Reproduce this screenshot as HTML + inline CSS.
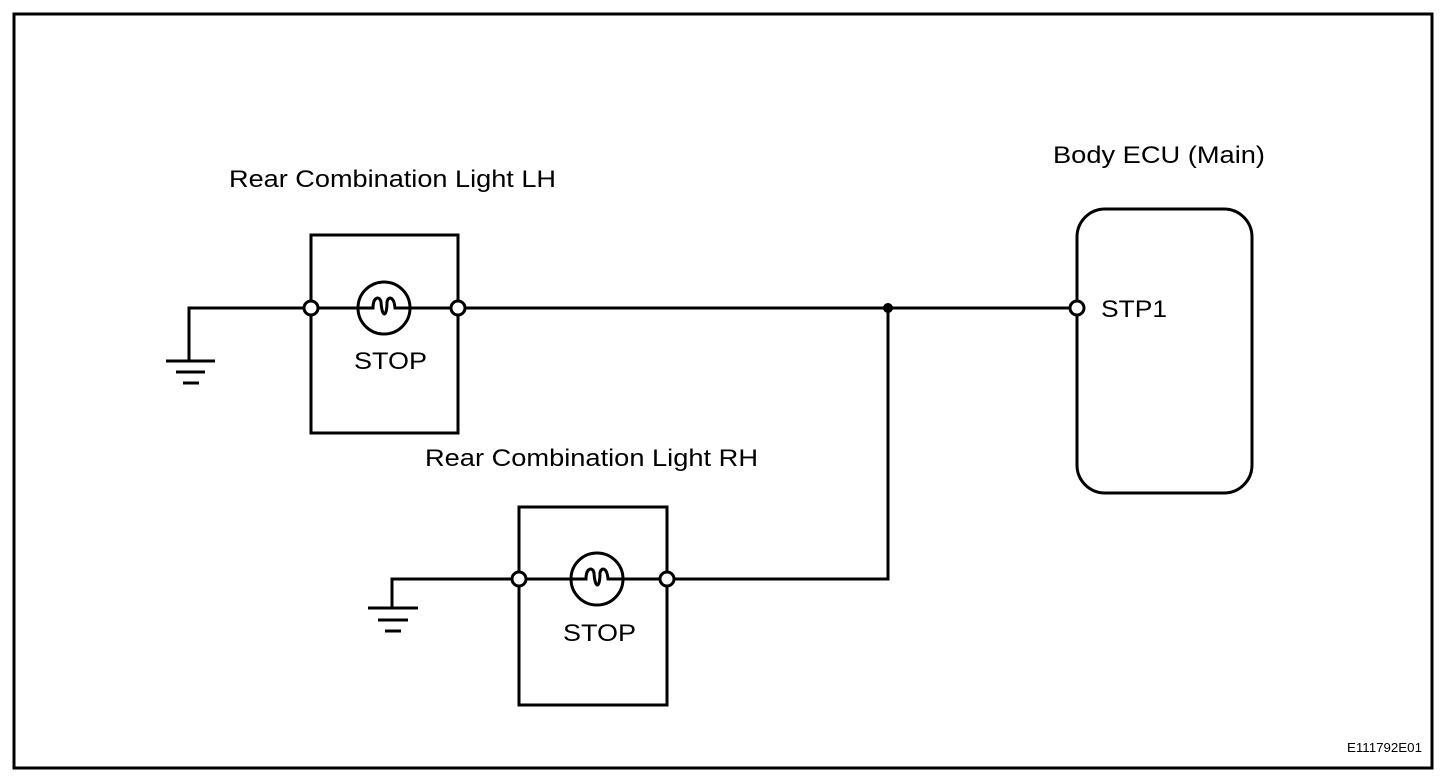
<!DOCTYPE html>
<html><head><style>body{margin:0;background:#fff}svg{display:block}</style></head><body>
<svg width="1456" height="784" xmlns="http://www.w3.org/2000/svg" font-family="Liberation Sans, Arial, sans-serif">
<rect x="0" y="0" width="1456" height="784" fill="#fff"/>
<rect x="14" y="14" width="1418" height="754" fill="none" stroke="#000" stroke-width="3"/>
<g stroke="#000" stroke-width="3" fill="none">
<rect x="311" y="235" width="147" height="198"/>
<rect x="519" y="507" width="148" height="198"/>
<rect x="1077" y="209" width="175" height="284" rx="28"/>
<polyline points="189,361 189,308 1077,308"/>
<polyline points="392,608 392,579 888,579 888,308"/>
<line x1="166" y1="361" x2="215" y2="361"/><line x1="176" y1="372" x2="205" y2="372"/><line x1="183" y1="383" x2="199" y2="383"/>
<line x1="368" y1="608" x2="418" y2="608"/><line x1="378" y1="620" x2="408" y2="620"/><line x1="385" y1="631" x2="401" y2="631"/>
<circle cx="384" cy="308" r="26" fill="#fff"/>
<circle cx="597" cy="579" r="26" fill="#fff"/>
<path d="M358,308 H373 C373,296 380,296 381,302 C382,318 387,318 387,302 C388,296 394,296 395,308 H410"/>
<path d="M571,579 H586 C586,567 593,567 594,573 C595,589 600,589 600,573 C601,567 607,567 608,579 H623"/>
<circle cx="311" cy="308" r="7" fill="#fff"/><circle cx="458" cy="308" r="7" fill="#fff"/>
<circle cx="519" cy="579" r="7" fill="#fff"/><circle cx="667" cy="579" r="7" fill="#fff"/>
<circle cx="1077" cy="308" r="7" fill="#fff"/>
</g>
<circle cx="888" cy="308" r="5" fill="#000"/>
<g font-size="24" fill="#000">
<text x="229" y="187" textLength="327" lengthAdjust="spacingAndGlyphs">Rear Combination Light LH</text>
<text x="425" y="466" textLength="333" lengthAdjust="spacingAndGlyphs">Rear Combination Light RH</text>
<text x="1053" y="163" textLength="212" lengthAdjust="spacingAndGlyphs">Body ECU (Main)</text>
<text x="1101" y="317" textLength="66" lengthAdjust="spacingAndGlyphs">STP1</text>
<text x="354" y="369" textLength="73" lengthAdjust="spacingAndGlyphs">STOP</text>
<text x="563" y="641" textLength="73" lengthAdjust="spacingAndGlyphs">STOP</text>
</g>
<text x="1347" y="752" font-size="13" fill="#000" textLength="75" lengthAdjust="spacingAndGlyphs">E111792E01</text>
</svg>
</body></html>
